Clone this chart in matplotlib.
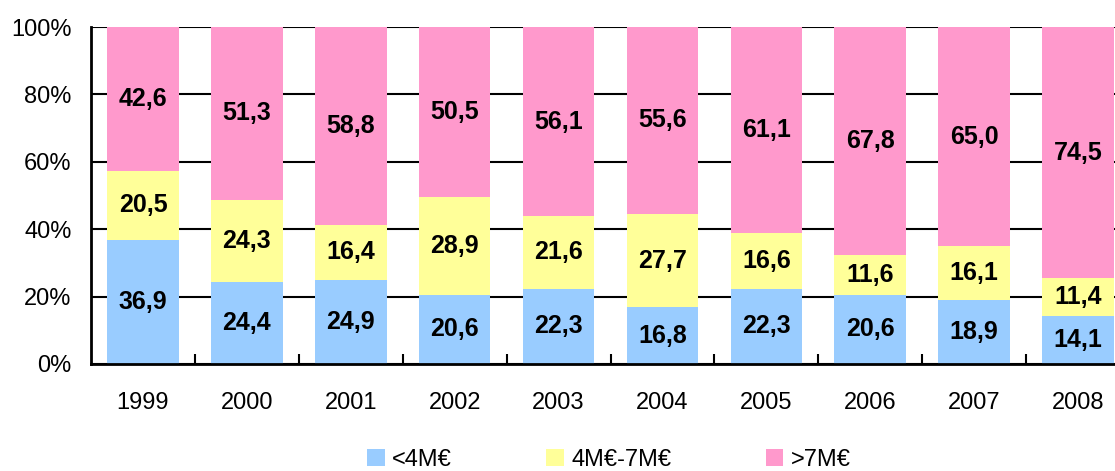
import numpy as np
import matplotlib.pyplot as plt
from matplotlib.patches import Patch

plt.rcParams["font.family"] = ["Liberation Sans", "DejaVu Sans"]

YEARS = ["1999", "2000", "2001", "2002", "2003", "2004", "2005", "2006", "2007", "2008"]
SMALL = [36.9, 24.4, 24.9, 20.6, 22.3, 16.8, 22.3, 20.6, 18.9, 14.1]
MID = [20.5, 24.3, 16.4, 28.9, 21.6, 27.7, 16.6, 11.6, 16.1, 11.4]
LARGE = [42.6, 51.3, 58.8, 50.5, 56.1, 55.6, 61.1, 67.8, 65.0, 74.5]
SERIES = ["<4M€", "4M€-7M€", ">7M€"]
COLORS = ["#99CCFF", "#FFFF99", "#FF99CC"]


def fmt(v):
    return f"{v:.1f}".replace(".", ",")


def main():
    fig = plt.figure(figsize=(11.15, 4.71), dpi=100)
    ax = fig.add_axes([91 / 1115, 107 / 471, 1039 / 1115, 337 / 471])

    x = np.arange(len(YEARS))
    bottom = np.zeros(len(YEARS))
    for vals, color in zip([SMALL, MID, LARGE], COLORS):
        vals = np.array(vals)
        ax.bar(x, vals, width=0.69, bottom=bottom, color=color, zorder=2)
        for xi, b, v in zip(x, bottom, vals):
            ax.text(xi, b + v / 2, fmt(v), ha="center", va="center",
                    fontsize=18, fontweight="bold", zorder=3)
        bottom += vals

    ax.set_xlim(-0.5, len(YEARS) - 0.5)
    ax.set_ylim(0, 100)
    ax.set_yticks(np.arange(0, 101, 20))
    ax.set_yticklabels([f"{v}%" for v in range(0, 101, 20)], fontsize=17)
    ax.tick_params(axis="y", length=0, pad=14)
    ax.set_xticks(x)
    ax.set_xticklabels(YEARS, fontsize=17)
    ax.set_xticks(np.arange(0.5, len(YEARS) - 0.5, 1), minor=True)
    ax.tick_params(axis="x", which="major", length=0, pad=20)
    ax.tick_params(axis="x", which="minor", direction="in", length=7, width=1.5)
    ax.yaxis.grid(True, color="black", linewidth=1.5, zorder=1)
    ax.set_axisbelow(True)
    for side in ["top", "right"]:
        ax.spines[side].set_visible(False)
    for side in ["left", "bottom"]:
        ax.spines[side].set_linewidth(2)

    handles = [Patch(facecolor=c, edgecolor="none") for c in COLORS]
    fig.legend(handles, SERIES, loc="center", bbox_to_anchor=(0.546, 0.024),
               ncol=3, frameon=False, fontsize=17, columnspacing=4.0,
               handlelength=0.75, handleheight=0.75, handletextpad=0.3)

    fig.savefig("out.png")


if __name__ == "__main__":
    main()
